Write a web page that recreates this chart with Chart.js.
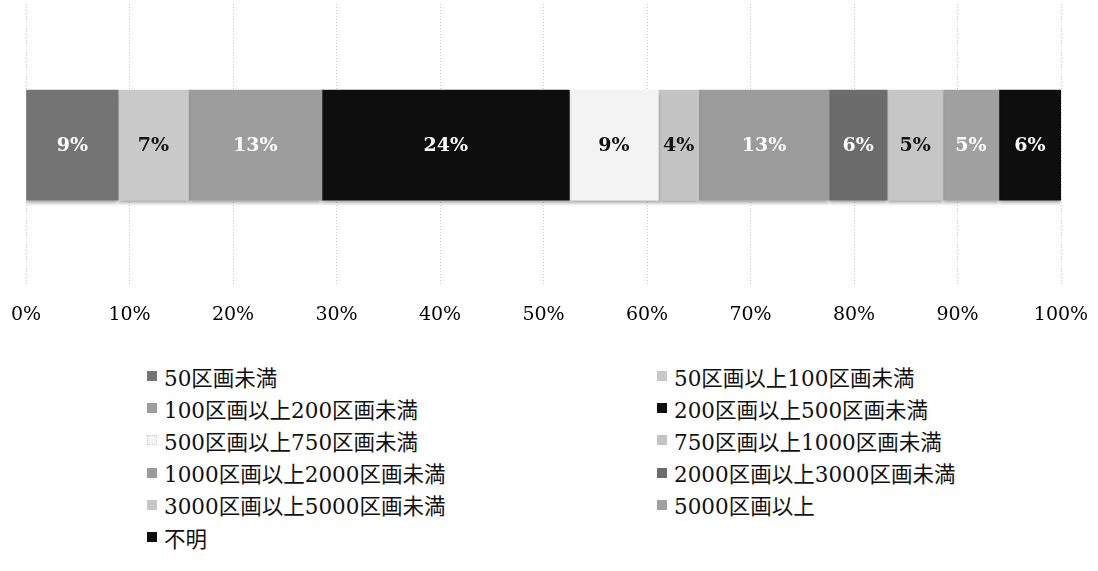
<!DOCTYPE html>
<html><head><meta charset="utf-8">
<script src="https://cdn.jsdelivr.net/npm/chart.js@4"></script>
<style>
html,body{margin:0;padding:0;background:#fff;}
#wrap{position:relative;width:1098px;height:571px;overflow:hidden;}
#cv{position:absolute;left:0;top:0;}
#legend{position:absolute;left:147px;top:360px;width:950px;display:grid;grid-template-columns:510px 440px;row-gap:0;
 font-family:"DejaVu Serif","Noto Sans CJK JP",serif;font-size:21.5px;color:#111;}
.li{height:32.2px;display:flex;align-items:center;white-space:nowrap;}
.sw{width:10px;height:10px;margin-right:7px;flex:none;}
</style></head>
<body><div id="wrap"><canvas id="cv" width="1098" height="349"></canvas><div id="legend"></div></div>
<script>
const categories = ["50区画未満","50区画以上100区画未満","100区画以上200区画未満","200区画以上500区画未満","500区画以上750区画未満","750区画以上1000区画未満","1000区画以上2000区画未満","2000区画以上3000区画未満","3000区画以上5000区画未満","5000区画以上","不明"];
const values = [8.9, 6.8, 12.9, 23.9, 8.6, 3.9, 12.6, 5.6, 5.4, 5.4, 6.0];
const valueLabels = ["9%","7%","13%","24%","9%","4%","13%","6%","5%","5%","6%"];
const tickLabels = ["0%","10%","20%","30%","40%","50%","60%","70%","80%","90%","100%"];
const colors = ["#747474","#c9c9c9","#9d9d9d","#0e0e0e","#f3f3f3","#c4c4c4","#9b9b9b","#6c6c6c","#c6c6c6","#a0a0a0","#0e0e0e"];
const labelColors = ["#fff","#111","#fff","#fff","#111","#111","#fff","#fff","#111","#fff","#fff"];

const datasets = categories.map((c,i)=>({
  label:c, data:[values[i]], backgroundColor:colors[i], borderWidth:0, barThickness:110
}));

const labelPlugin = {
  id:'segLabels',
  beforeDatasetsDraw(chart){
    const ctx=chart.ctx; ctx.save();
    ctx.shadowColor='rgba(0,0,0,0.28)'; ctx.shadowOffsetY=4; ctx.shadowBlur=3;
  },
  afterDatasetsDraw(chart){
    const ctx=chart.ctx; ctx.restore(); ctx.save();
    ctx.font='bold 19px "DejaVu Serif", serif';
    ctx.textAlign='center'; ctx.textBaseline='middle';
    chart.data.datasets.forEach((ds,i)=>{
      const el=chart.getDatasetMeta(i).data[0];
      ctx.fillStyle=labelColors[i];
      ctx.fillText(valueLabels[i],(el.x+el.base)/2,el.y+1);
    });
    ctx.restore();
  }
};

new Chart(document.getElementById('cv'),{
  type:'bar',
  data:{labels:[""],datasets},
  options:{
    indexAxis:'y', responsive:false, animation:false,
    layout:{padding:{left:26,right:37,top:4,bottom:6}},
    plugins:{legend:{display:false},tooltip:{enabled:false}},
    scales:{
      x:{stacked:true,min:0,max:100,
        afterFit(s){ s.paddingLeft=0; s.paddingRight=0; },
        ticks:{stepSize:10,padding:17,color:'#000',font:{family:'"DejaVu Serif", serif',size:19},
          callback:(v,i)=>tickLabels[i]},
        grid:{color:'#c8c8c8',lineWidth:1,drawTicks:false},
        border:{display:false,dash:[1,2]}},
      y:{stacked:true,display:false}
    }
  },
  plugins:[labelPlugin]
});

const lg=document.getElementById('legend');
categories.forEach((c,i)=>{
  const d=document.createElement('div'); d.className='li';
  d.innerHTML='<span class="sw" style="background:'+colors[i]+(colors[i]==='#f3f3f3'?';outline:1px dotted #ccc;outline-offset:-1px':'')+'"></span><span>'+c+'</span>';
  lg.appendChild(d);
});
</script></body></html>
